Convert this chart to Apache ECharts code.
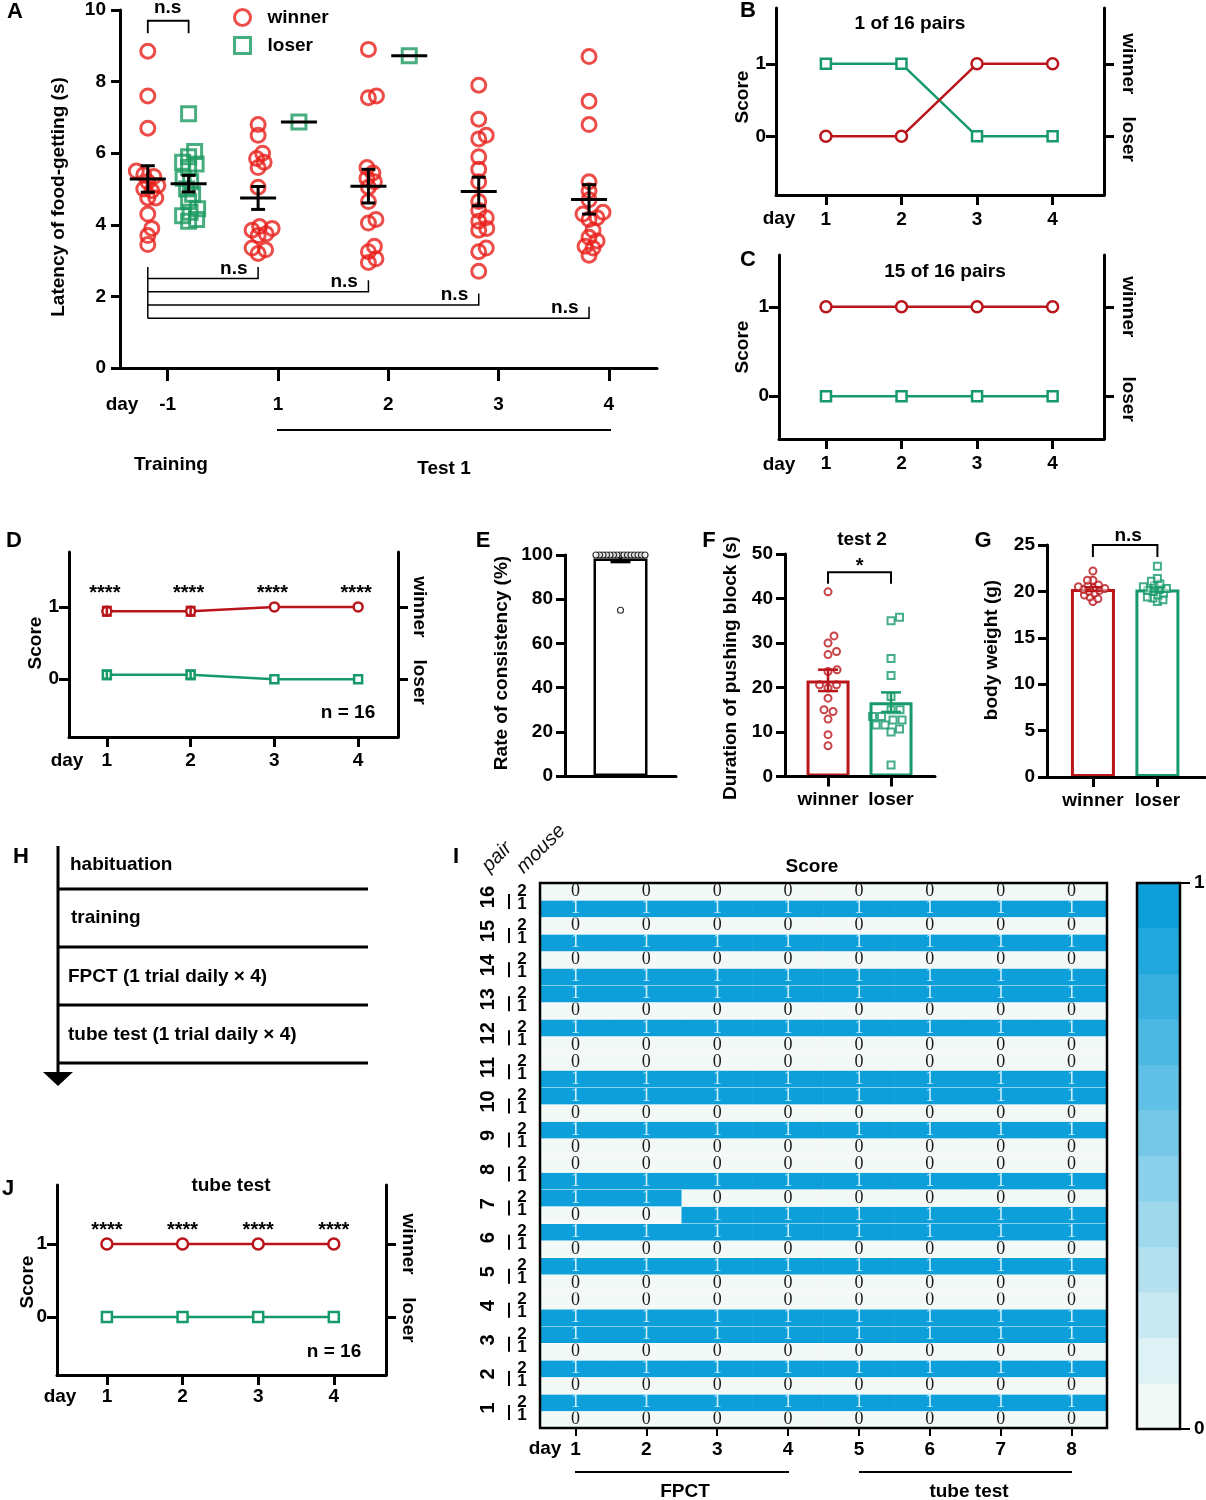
<!DOCTYPE html>
<html><head><meta charset="utf-8">
<script src="https://cdn.jsdelivr.net/npm/echarts/dist/echarts.min.js"></script>
<style>html,body{margin:0;padding:0;background:#fff}#c{width:1206px;height:1500px}</style>
</head><body><div id="c"></div>
<script>
// ================= DATA =================
// Panel A: latency of food-getting (s)
const daysA = ['-1', '1', '2', '3', '4'];
const winnerDayM1 = [8.85, 7.6, 6.7, 5.5, 5.4, 5.35, 5.2, 5.1, 5.0, 4.95, 4.75, 4.75, 4.3, 3.9, 3.7, 3.45];
const winnerDay1 = [6.8, 6.5, 6.0, 5.85, 5.75, 5.6, 5.05, 3.95, 3.9, 3.85, 3.75, 3.7, 3.35, 3.3, 3.2];
const winnerDay2 = [8.9, 7.6, 7.55, 5.6, 5.45, 5.3, 5.2, 5.05, 4.65, 4.15, 4.05, 3.4, 3.25, 3.05, 2.95];
const winnerDay3 = [7.9, 6.95, 6.5, 6.4, 5.9, 5.55, 5.2, 4.65, 4.4, 4.2, 4.1, 3.9, 3.85, 3.35, 3.25, 2.7];
const winnerDay4 = [8.7, 7.45, 6.8, 5.2, 4.95, 4.7, 4.35, 4.3, 4.2, 4.15, 3.85, 3.65, 3.55, 3.4, 3.35, 3.15];
const loserDayM1 = [7.1, 6.05, 5.9, 5.75, 5.7, 5.6, 5.3, 5.2, 5.0, 4.85, 4.65, 4.45, 4.35, 4.25, 4.15, 4.1];
const loserDay1 = [6.87];
const loserDay2 = [8.72];
const winnerMeanA = [5.28, 4.75, 5.08, 4.93, 4.71];
const winnerSemA = [0.37, 0.32, 0.47, 0.40, 0.41];
const loserMeanA = [5.15, 6.87, 8.72, null, null];
const loserSemA = [0.23, 0, 0, null, null];

// Panels B, C, D, J: score per day
const daysScore = [1, 2, 3, 4];
const winnerB = [0, 0, 1, 1];
const loserB = [1, 1, 0, 0];
const winnerC = [1, 1, 1, 1];
const loserC = [0, 0, 0, 0];
const winnerD = [0.94, 0.94, 1, 1];
const winnerSemD = [0.06, 0.06, 0, 0];
const loserD = [0.06, 0.06, 0, 0];
const loserSemD = [0.06, 0.06, 0, 0];
const winnerJ = [1, 1, 1, 1];
const loserJ = [0, 0, 0, 0];

// Panel E: rate of consistency (%)
const consistencyE = [100, 100, 100, 100, 100, 100, 100, 100, 100, 100, 100, 100, 100, 100, 100, 75];
const consistencyMeanE = 98.4;
const consistencySemE = 1.6;

// Panel F: duration of pushing block (s)
const groupNames = ['winner', 'loser'];
const pushWinnerF = [41.5, 31.6, 30.0, 28.1, 27.4, 24.0, 23.6, 20.6, 20.6, 19.9, 17.6, 15.0, 14.6, 12.9, 9.4, 6.9];
const pushLoserF = [35.8, 35.0, 26.5, 22.7, 18.0, 15.0, 15.0, 13.5, 13.5, 12.7, 12.7, 11.6, 11.6, 10.7, 10.0, 2.6];
const pushMeanF = [21.6, 16.7];
const pushSemF = [2.4, 2.2];

// Panel G: body weight (g)
const weightWinnerG = [22.2, 21.2, 21.2, 20.7, 20.6, 20.5, 20.4, 20.3, 20.2, 20.1, 20.0, 19.8, 19.6, 19.4, 19.2, 18.9];
const weightLoserG = [22.7, 21.4, 21.1, 20.8, 20.6, 20.5, 20.3, 20.2, 20.1, 20.0, 19.8, 19.6, 19.4, 19.3, 19.1, 18.9];
const weightMeanG = [20.25, 20.2];
const weightSemG = [0.22, 0.24];

// Panel I: heatmap of scores, rows from bottom (pair 1, mouse 1) to top (pair 16, mouse 2)
const heatDays = ['1', '2', '3', '4', '5', '6', '7', '8'];
const heatPairs = [1, 2, 3, 4, 5, 6, 7, 8, 9, 10, 11, 12, 13, 14, 15, 16];
const heatMice = ['1', '2'];
const heatScores = [
  [0,0,0,0,0,0,0,0], [1,1,1,1,1,1,1,1],   // pair 1
  [0,0,0,0,0,0,0,0], [1,1,1,1,1,1,1,1],   // pair 2
  [0,0,0,0,0,0,0,0], [1,1,1,1,1,1,1,1],   // pair 3
  [1,1,1,1,1,1,1,1], [0,0,0,0,0,0,0,0],   // pair 4
  [0,0,0,0,0,0,0,0], [1,1,1,1,1,1,1,1],   // pair 5
  [0,0,0,0,0,0,0,0], [1,1,1,1,1,1,1,1],   // pair 6
  [0,0,1,1,1,1,1,1], [1,1,0,0,0,0,0,0],   // pair 7
  [1,1,1,1,1,1,1,1], [0,0,0,0,0,0,0,0],   // pair 8
  [0,0,0,0,0,0,0,0], [1,1,1,1,1,1,1,1],   // pair 9
  [0,0,0,0,0,0,0,0], [1,1,1,1,1,1,1,1],   // pair 10
  [1,1,1,1,1,1,1,1], [0,0,0,0,0,0,0,0],   // pair 11
  [0,0,0,0,0,0,0,0], [1,1,1,1,1,1,1,1],   // pair 12
  [0,0,0,0,0,0,0,0], [1,1,1,1,1,1,1,1],   // pair 13
  [1,1,1,1,1,1,1,1], [0,0,0,0,0,0,0,0],   // pair 14
  [1,1,1,1,1,1,1,1], [0,0,0,0,0,0,0,0],   // pair 15
  [1,1,1,1,1,1,1,1], [0,0,0,0,0,0,0,0]    // pair 16
];
const colorbarSteps = 12;

// ================= STYLE / LAYOUT =================
const F = '"Liberation Sans", Arial, Helvetica, sans-serif';
const SERIF = '"Liberation Serif", "Times New Roman", serif';
const RA = '#e8201c', GA = '#1c9a5f', RD = '#b9151b', GD = '#179a6a';
const L = {
  A: {left:120, top:10, width:537, height:358, xmin:-0.432, xmax:4.436, ymin:0, ymax:10},
  B: {left:776, top:8, width:328, height:187, xmin:0.34, xmax:4.68, ymin:-0.81, ymax:1.77},
  C: {left:779, top:255, width:325, height:184, xmin:0.378, xmax:4.68, ymin:-0.48, ymax:1.58},
  D: {left:69, top:552, width:329, height:185, xmin:0.548, xmax:4.476, ymin:-0.8, ymax:1.76},
  E: {left:565, top:555, width:111, height:221, xmin:-1, xmax:1, ymin:0, ymax:100},
  F: {left:785, top:554, width:150, height:222.5, xmin:-0.683, xmax:1.698, ymin:0, ymax:50},
  G: {left:1047, top:545, width:158, height:232, xmin:-0.712, xmax:1.738, ymin:0, ymax:25},
  I: {left:540, top:883, width:567, height:545},
  K: {left:1137, top:883, width:43, height:546},
  J: {left:57, top:1185, width:329, height:190, xmin:0.34, xmax:4.69, ymin:-0.795, ymax:1.81}
};
const ppx = l => l.width / (l.xmax - l.xmin);
const ppy = l => l.height / (l.ymax - l.ymin);

const grids = [], xAxes = [], yAxes = [], series = [];
function addGrid(l) {
  grids.push({left:l.left, top:l.top, width:l.width, height:l.height, containLabel:false, outerBoundsMode:'none', show:false});
  return grids.length - 1;
}
function valAxis(g, l, dim, o) {
  o = o || {};
  const isX = dim === 'x';
  const a = {
    type:'value', gridIndex:g,
    min: isX ? l.xmin : l.ymin, max: isX ? l.xmax : l.ymax,
    splitLine:{show:false},
    axisLine:{show:true, onZero:false, lineStyle:{color:'#000', width:3}},
    axisTick:{show:true, inside:false, length:o.tickLen || 9, lineStyle:{color:'#000', width:3}},
    axisLabel:{show:true, color:'#000', fontSize:19, fontWeight:'bold', fontFamily:F, margin: o.margin != null ? o.margin : 13},
    axisPointer:{show:false}, silent:true, z:3
  };
  if (o.interval) a.interval = o.interval;
  if (o.ticks) { a.axisTick.customValues = o.ticks; a.axisLabel.customValues = o.ticks; }
  if (o.formatter) a.axisLabel.formatter = o.formatter;
  if (o.noLabel) a.axisLabel.show = false;
  if (o.noTick) a.axisTick.show = false;
  if (o.position) a.position = o.position;
  return a;
}
const pushX = a => (xAxes.push(a), xAxes.length - 1);
const pushY = a => (yAxes.push(a), yAxes.length - 1);
const pushS = s => (series.push(Object.assign({animation:false, silent:true}, s)), series.length - 1);

function swarm(vals, cx, px, py, d) {
  const order = vals.map((v, i) => i).sort((a, b) => vals[a] - vals[b]);
  const placed = [], out = [];
  order.forEach(i => {
    const yy = vals[i] * py;
    let off = 0;
    for (let k = 0; k < 800; k++) {
      const c = k === 0 ? 0 : (k % 2 ? 1 : -1) * Math.ceil(k / 2) * 0.5;
      if (placed.every(p => (p[0] - c) * (p[0] - c) + (p[1] - yy) * (p[1] - yy) >= d * d)) { off = c; break; }
    }
    placed.push([off, yy]);
    out.push([cx + off / px, vals[i]]);
  });
  return out;
}
function errRender(hw, cap, lw, color, drawMean) {
  return function (params, api) {
    const x = api.value(0), m = api.value(1), s = api.value(2);
    const c = api.coord([x, m]);
    const st = {stroke:color, lineWidth:lw};
    const ch = [];
    if (drawMean) ch.push({type:'line', shape:{x1:c[0]-hw, y1:c[1], x2:c[0]+hw, y2:c[1]}, style:st});
    if (s > 0) {
      const t = api.coord([x, m + s]), b = api.coord([x, m - s]);
      ch.push({type:'line', shape:{x1:c[0], y1:t[1], x2:c[0], y2:b[1]}, style:st});
      ch.push({type:'line', shape:{x1:c[0]-cap, y1:t[1], x2:c[0]+cap, y2:t[1]}, style:st});
      ch.push({type:'line', shape:{x1:c[0]-cap, y1:b[1], x2:c[0]+cap, y2:b[1]}, style:st});
    }
    return {type:'group', children:ch};
  };
}
function errSeries(xi, yi, data, hw, cap, lw, color, drawMean) {
  return pushS({type:'custom', xAxisIndex:xi, yAxisIndex:yi, data, renderItem:errRender(hw, cap, lw, color, drawMean), clip:false, z:5});
}
function scoreLine(name, xi, yi, vals, color, symbol, size) {
  return pushS({type:'line', name, xAxisIndex:xi, yAxisIndex:yi,
    data: vals.map((v, i) => [daysScore[i], v]), symbol, symbolSize:size, showSymbol:true,
    lineStyle:{color, width:2.5}, itemStyle:{color:'#fff', borderColor:color, borderWidth:2.5}, z:3});
}

// ---------- Panel A ----------
const gA = addGrid(L.A);
const xA = pushX(valAxis(gA, L.A, 'x', {ticks:[0,1,2,3,4], formatter: v => daysA[Math.round(v)], margin:27, tickLen:13}));
const yA = pushY(valAxis(gA, L.A, 'y', {interval:2, margin:14}));
const OFF_W = -0.18, OFF_L = 0.19;
const winnerDaysA = [winnerDayM1, winnerDay1, winnerDay2, winnerDay3, winnerDay4];
const loserDaysA = [loserDayM1, loserDay1, loserDay2, [], []];
let wPts = [], lPts = [];
winnerDaysA.forEach((v, k) => { wPts = wPts.concat(swarm(v, k + OFF_W, ppx(L.A), ppy(L.A), 8)); });
loserDaysA.forEach((v, k) => { lPts = lPts.concat(swarm(v, k + OFF_L, ppx(L.A), ppy(L.A), 8)); });
pushS({type:'scatter', name:'winner', xAxisIndex:xA, yAxisIndex:yA, data:wPts, symbol:'circle', symbolSize:14,
  itemStyle:{color:'rgba(0,0,0,0)', borderColor:RA, borderWidth:3}, z:2});
pushS({type:'scatter', name:'loser', xAxisIndex:xA, yAxisIndex:yA, data:lPts, symbol:'rect', symbolSize:14,
  itemStyle:{color:'rgba(0,0,0,0)', borderColor:GA, borderWidth:3}, z:2});
errSeries(xA, yA, daysA.map((d, k) => [k + OFF_W, winnerMeanA[k], winnerSemA[k]]), 18, 7, 3, '#000', true);
errSeries(xA, yA, daysA.map((d, k) => [k + OFF_L, loserMeanA[k], loserSemA[k]]).filter(r => r[1] != null), 18, 7, 3, '#000', true);

// ---------- Panel B ----------
const gB = addGrid(L.B);
const xB = pushX(valAxis(gB, L.B, 'x', {ticks:daysScore, margin:15, tickLen:10}));
const yB = pushY(valAxis(gB, L.B, 'y', {ticks:[0,1], margin:10, tickLen:10}));
const yB2 = pushY(valAxis(gB, L.B, 'y', {ticks:[0,1], noLabel:true, tickLen:10, position:'right'}));
scoreLine('B loser', xB, yB, loserB, GD, 'rect', 10);
scoreLine('B winner', xB, yB, winnerB, RD, 'circle', 11);

// ---------- Panel C ----------
const gC = addGrid(L.C);
const xC = pushX(valAxis(gC, L.C, 'x', {ticks:daysScore, margin:15, tickLen:10}));
const yC = pushY(valAxis(gC, L.C, 'y', {ticks:[0,1], margin:10, tickLen:10}));
const yC2 = pushY(valAxis(gC, L.C, 'y', {ticks:[0,1], noLabel:true, tickLen:10, position:'right'}));
scoreLine('C winner', xC, yC, winnerC, RD, 'circle', 11);
scoreLine('C loser', xC, yC, loserC, GD, 'rect', 10);

// ---------- Panel D ----------
const gD = addGrid(L.D);
const xD = pushX(valAxis(gD, L.D, 'x', {ticks:daysScore, margin:14, tickLen:10}));
const yD = pushY(valAxis(gD, L.D, 'y', {ticks:[0,1], margin:10, tickLen:10}));
const yD2 = pushY(valAxis(gD, L.D, 'y', {ticks:[0,1], noLabel:true, tickLen:10, position:'right'}));
scoreLine('D winner', xD, yD, winnerD, RD, 'circle', 9);
scoreLine('D loser', xD, yD, loserD, GD, 'rect', 8);
errSeries(xD, yD, daysScore.map((d, i) => [d, winnerD[i], winnerSemD[i]]), 0, 5, 2.5, RD, false);
errSeries(xD, yD, daysScore.map((d, i) => [d, loserD[i], loserSemD[i]]), 0, 5, 2.5, GD, false);

// ---------- Panel E ----------
const gE = addGrid(L.E);
const xE = pushX(valAxis(gE, L.E, 'x', {noTick:true, noLabel:true}));
const yE = pushY(valAxis(gE, L.E, 'y', {interval:20, margin:12}));
pushS({type:'bar', xAxisIndex:xE, yAxisIndex:yE, data:[[0, consistencyMeanE]], barWidth:54,
  itemStyle:{color:'#fff', borderColor:'#000', borderWidth:2.5}, z:2});
errSeries(xE, yE, [[0, consistencyMeanE, consistencySemE]], 0, 10, 2.5, '#000', false);
pushS({type:'scatter', xAxisIndex:xE, yAxisIndex:yE, data:swarm(consistencyE, 0, ppx(L.E), ppy(L.E), 3.4),
  symbol:'circle', symbolSize:6, itemStyle:{color:'#fff', borderColor:'#000', borderWidth:1.2}, z:6});

// ---------- Panel F ----------
const gF = addGrid(L.F);
const xF = pushX(valAxis(gF, L.F, 'x', {ticks:[0,1], formatter: v => groupNames[Math.round(v)], margin:14, tickLen:10}));
const yF = pushY(valAxis(gF, L.F, 'y', {interval:10, margin:12}));
pushS({type:'bar', xAxisIndex:xF, yAxisIndex:yF, barWidth:43, z:2,
  data:[{value:[0, pushMeanF[0]], itemStyle:{color:'#fff', borderColor:RD, borderWidth:3}},
        {value:[1, pushMeanF[1]], itemStyle:{color:'#fff', borderColor:GD, borderWidth:3}}]});
pushS({type:'scatter', xAxisIndex:xF, yAxisIndex:yF, data:swarm(pushWinnerF, 0, ppx(L.F), ppy(L.F), 9),
  symbol:'circle', symbolSize:7, itemStyle:{color:'rgba(0,0,0,0)', borderColor:RD, borderWidth:2}, z:4});
pushS({type:'scatter', xAxisIndex:xF, yAxisIndex:yF, data:swarm(pushLoserF, 1, ppx(L.F), ppy(L.F), 9),
  symbol:'rect', symbolSize:7, itemStyle:{color:'rgba(0,0,0,0)', borderColor:GD, borderWidth:2}, z:4});
errSeries(xF, yF, [[0, pushMeanF[0], pushSemF[0]]], 0, 10, 2.5, RD, false);
errSeries(xF, yF, [[1, pushMeanF[1], pushSemF[1]]], 0, 10, 2.5, GD, false);

// ---------- Panel G ----------
const gG = addGrid(L.G);
const xG = pushX(valAxis(gG, L.G, 'x', {ticks:[0,1], formatter: v => groupNames[Math.round(v)], margin:14, tickLen:10}));
const yG = pushY(valAxis(gG, L.G, 'y', {interval:5, margin:12}));
pushS({type:'bar', xAxisIndex:xG, yAxisIndex:yG, barWidth:44, z:2,
  data:[{value:[0, weightMeanG[0]], itemStyle:{color:'#fff', borderColor:RD, borderWidth:3}},
        {value:[1, weightMeanG[1]], itemStyle:{color:'#fff', borderColor:GD, borderWidth:3}}]});
pushS({type:'scatter', xAxisIndex:xG, yAxisIndex:yG, data:swarm(weightWinnerG, 0, ppx(L.G), ppy(L.G), 5.5),
  symbol:'circle', symbolSize:7, itemStyle:{color:'rgba(255,255,255,0.6)', borderColor:RD, borderWidth:2}, z:4});
pushS({type:'scatter', xAxisIndex:xG, yAxisIndex:yG, data:swarm(weightLoserG, 1, ppx(L.G), ppy(L.G), 5.5),
  symbol:'rect', symbolSize:7, itemStyle:{color:'rgba(255,255,255,0.6)', borderColor:GD, borderWidth:2}, z:4});
errSeries(xG, yG, [[0, weightMeanG[0], weightSemG[0]]], 0, 8, 2, RD, false);
errSeries(xG, yG, [[1, weightMeanG[1], weightSemG[1]]], 0, 8, 2, GD, false);

// ---------- Panel I (heatmap) ----------
const gI = addGrid(L.I);
const heatRowNames = [];
heatPairs.forEach(p => heatMice.forEach(m => heatRowNames.push(p + '-' + m)));
const xI = pushX({type:'category', gridIndex:gI, data:heatDays, position:'bottom',
  axisLine:{show:false}, axisTick:{show:true, alignWithLabel:true, length:8, lineStyle:{color:'#000', width:2}},
  axisLabel:{color:'#000', fontSize:19, fontWeight:'bold', fontFamily:F, margin:12}, splitLine:{show:false}, z:3});
const yI = pushY({type:'category', gridIndex:gI, data:heatRowNames, axisLine:{show:false}, axisTick:{show:false},
  axisLabel:{show:false}, splitLine:{show:true, interval:0, lineStyle:{color:'rgba(255,255,255,0.5)', width:1}}, z:3});
const heatData = [];
heatScores.forEach((row, r) => row.forEach((v, c) => heatData.push([c, r, v])));
const sHeat = pushS({type:'heatmap', xAxisIndex:xI, yAxisIndex:yI, data:heatData, z:2,
  itemStyle:{borderWidth:0}, emphasis:{disabled:true},
  label:{show:true, fontSize:18, fontFamily:SERIF, formatter: p => p.value[2] ? '{w|1}' : '{k|0}',
    rich:{w:{color:'#cdeffb', fontFamily:SERIF, fontSize:18, lineHeight:17}, k:{color:'#1a1a1a', fontFamily:SERIF, fontSize:18, lineHeight:17}}}});

// colour bar
const gK = addGrid(L.K);
const cbCats = [], cbData = [];
for (let i = 0; i < colorbarSteps; i++) { cbCats.push('b' + i); cbData.push([0, i, i / (colorbarSteps - 1)]); }
const xK = pushX({type:'category', gridIndex:gK, data:['s'], axisLine:{show:false}, axisTick:{show:false}, axisLabel:{show:false}});
const yK = pushY({type:'category', gridIndex:gK, data:cbCats, axisLine:{show:false}, axisTick:{show:false}, axisLabel:{show:false}});
const yK2 = pushY({type:'value', gridIndex:gK, min:0, max:1, position:'right', splitLine:{show:false},
  axisLine:{show:false}, axisTick:{show:true, customValues:[0,1], length:10, lineStyle:{color:'#000', width:2}},
  axisLabel:{customValues:[0,1], color:'#000', fontSize:19, fontWeight:'bold', fontFamily:F, margin:14}, z:3});
const sCb = pushS({type:'heatmap', xAxisIndex:xK, yAxisIndex:yK, data:cbData, itemStyle:{borderWidth:0}, emphasis:{disabled:true}});

// ---------- Panel J ----------
const gJ = addGrid(L.J);
const xJ = pushX(valAxis(gJ, L.J, 'x', {ticks:daysScore, margin:12, tickLen:10}));
const yJ = pushY(valAxis(gJ, L.J, 'y', {ticks:[0,1], margin:10, tickLen:10}));
const yJ2 = pushY(valAxis(gJ, L.J, 'y', {ticks:[0,1], noLabel:true, tickLen:10, position:'right'}));
scoreLine('J winner', xJ, yJ, winnerJ, RD, 'circle', 11);
scoreLine('J loser', xJ, yJ, loserJ, GD, 'rect', 10);

const option = {
  animation:false, backgroundColor:'#fff',
  grid:grids, xAxis:xAxes, yAxis:yAxes, series,
  visualMap:{show:false, type:'continuous', min:0, max:1, dimension:2, seriesIndex:[sHeat, sCb],
    inRange:{color:['#f3f9f7', '#0d9fda']}},
  legend:{left:228, top:3, orient:'vertical', itemWidth:16, itemHeight:16, itemGap:9, selectedMode:false,
    textStyle:{fontSize:19, fontWeight:'bold', fontFamily:F, color:'#000', padding:[0, 0, 0, 12]},
    data:[{name:'winner', icon:'circle', itemStyle:{color:'rgba(0,0,0,0)', borderColor:RA, borderWidth:3}},
          {name:'loser', icon:'rect', itemStyle:{color:'rgba(0,0,0,0)', borderColor:GA, borderWidth:3}}]},
  tooltip:{show:false}
};

const chart = echarts.init(document.getElementById('c'), null, {renderer:'canvas'});
chart.setOption(option);

// ================= ANNOTATIONS =================
const P = (g, x, y) => chart.convertToPixel({gridIndex:g}, [x, y]);
const G = [];
function T(text, x, y, o) {
  o = o || {};
  G.push({type:'text', x, y, rotation:o.rot || 0, z:50, silent:true,
    style:{text, fill:o.color || '#000', font:(o.style || '') + ' ' + (o.weight || 'bold') + ' ' + (o.size || 19) + 'px ' + F,
      align:o.align || 'center', verticalAlign:'middle'}});
}
function Ln(pts, w, color) {
  G.push({type:'polyline', shape:{points:pts}, style:{stroke:color || '#000', lineWidth:w || 2, fill:null}, z:50, silent:true});
}
const UP = Math.PI / 2, DOWN = -Math.PI / 2;

// Panel letters
[['A',15,12],['B',748,11],['C',748,260],['D',14,541],['E',483,541],['F',709,541],['G',983,541],['H',21,857],['I',456,857],['J',8,1189]]
  .forEach(a => T(a[0], a[1], a[2], {size:22}));

// Panel A annotations
T('Latency of food-getting (s)', 59, 197, {rot:UP});
T('day', 122, 405);
Ln([[277, 430], [611, 430]], 2);
T('Training', 171, 465);
T('Test 1', 444, 469);
Ln([P(gA, OFF_W, 9.35), P(gA, OFF_W, 9.7), P(gA, OFF_L, 9.7), P(gA, OFF_L, 9.35)], 1.8);
T('n.s', P(gA, 0, 10.05)[0], P(gA, 0, 10.05)[1]);
const brLevels = [2.5, 2.13, 1.76, 1.39];
Ln([P(gA, OFF_W, 2.82), P(gA, OFF_W, brLevels[3])], 1.5);
brLevels.forEach((lv, j) => {
  const k = j + 1;
  Ln([P(gA, OFF_W, lv), P(gA, k + OFF_W, lv), P(gA, k + OFF_W, lv + 0.32)], 1.5);
  const t = P(gA, k + OFF_W - 0.22, lv + 0.28);
  T('n.s', t[0], t[1]);
});

// Panels B, C, D, J common annotations
function scorePanelText(g, scoreX, scoreY, rightX, dayX, dayY) {
  T('Score', scoreX, scoreY, {rot:UP});
  T('winner', rightX, P(g, 1, 1)[1], {rot:DOWN});
  T('loser', rightX, P(g, 1, 0)[1] + 3, {rot:DOWN});
  T('day', dayX, dayY);
}
scorePanelText(gB, 743, 97, 1128, 779, 219);
T('1 of 16 pairs', 910, 24);
scorePanelText(gC, 743, 347, 1128, 779, 465);
T('15 of 16 pairs', 945, 272);
scorePanelText(gD, 36, 643, 419, 67, 761);
T('n = 16', 348, 713);
daysScore.forEach(d => { const p = P(gD, d, 1.18); T('****', p[0] - 2, p[1], {size:20}); });
scorePanelText(gJ, 28, 1282, 408, 60, 1397);
T('tube test', 231, 1186);
T('n = 16', 334, 1352);
daysScore.forEach(d => { const p = P(gJ, d, 1.18); T('****', p[0], p[1], {size:20}); });

// Panel E, F, G
T('Rate of consistency (%)', 502, 663, {rot:UP});
T('Duration of pushing block (s)', 731, 668, {rot:UP});
T('test 2', 862, 540);
Ln([P(gF, 0, 43.3), P(gF, 0, 45.9), P(gF, 1, 45.9), P(gF, 1, 43.3)], 2);
T('*', P(gF, 0.5, 47.3)[0], P(gF, 0.5, 47.3)[1], {size:20});
T('body weight (g)', 992, 650, {rot:UP});
Ln([P(gG, 0, 23.7), P(gG, 0, 25), P(gG, 1, 25), P(gG, 1, 23.7)], 2);
T('n.s', P(gG, 0.546, 26.0)[0], P(gG, 0.546, 26.0)[1]);

// Panel H (protocol diagram)
Ln([[58, 846], [58, 1074]], 3);
G.push({type:'polygon', shape:{points:[[43, 1072], [73, 1072], [58, 1086]]}, style:{fill:'#000'}, z:50, silent:true});
[889, 947, 1005, 1063].forEach(y => Ln([[58, y], [368, y]], 3));
T('habituation', 70, 865, {align:'left'});
T('training', 71, 918, {align:'left'});
T('FPCT (1 trial daily \u00d7 4)', 68, 977, {align:'left'});
T('tube test (1 trial daily \u00d7 4)', 68, 1035, {align:'left'});

// Panel I labels
const rowH = L.I.height / heatRowNames.length;
heatPairs.forEach((p, i) => {
  const cy = L.I.top + L.I.height - (2 * i + 1) * rowH;
  T(String(p), 488, cy - 3, {rot:UP, size:20});
  Ln([[509, cy - 6], [509, cy + 9]], 2);
  T(heatMice[1], 522, cy - 9, {size:17});
  T(heatMice[0], 522, cy + 4, {size:17});
});
T('pair', 497, 857, {rot:Math.PI / 4, style:'italic', weight:'normal', size:20, color:'#111'});
T('mouse', 541, 849, {rot:Math.PI / 4, style:'italic', weight:'normal', size:20, color:'#111'});
T('Score', 812, 867);
T('day', 545, 1449);
Ln([[575, 1472], [789, 1472]], 2);
Ln([[859, 1472], [1072, 1472]], 2);
T('FPCT', 685, 1492);
T('tube test', 969, 1492);
G.push({type:'rect', shape:{x:L.I.left, y:L.I.top, width:L.I.width, height:L.I.height}, style:{fill:null, stroke:'#000', lineWidth:2.5}, z:60, silent:true});
G.push({type:'rect', shape:{x:L.K.left, y:L.K.top, width:L.K.width, height:L.K.height}, style:{fill:null, stroke:'#000', lineWidth:2.5}, z:60, silent:true});

chart.setOption({graphic:G});
</script></body></html>
